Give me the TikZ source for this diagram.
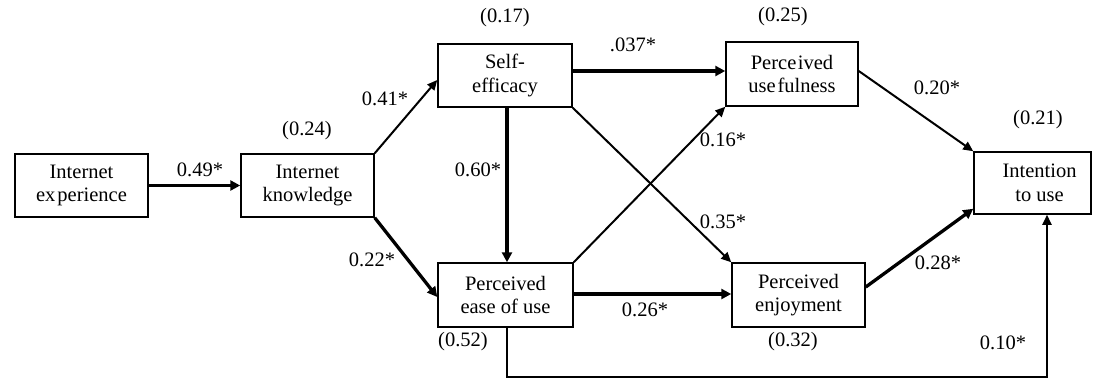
\documentclass[tikz,border=0pt]{standalone}
\usepackage{fontspec}
\setmainfont{Liberation Serif}
\usetikzlibrary{arrows.meta,calc}

\tikzset{
  base/.style={font=\fontsize{20.5}{23.5}\selectfont, text=black},
  var/.style={base, draw=black, line width=1.5pt, rectangle, align=center, inner sep=0pt},
  lbl/.style={base, inner sep=0pt},
  link/.style={line width=2pt, -{Triangle[length=10pt,width=9pt]}},
  strong/.style={line width=3.3pt, -{Triangle[length=10pt,width=10pt]}},
}

\begin{document}
\begin{tikzpicture}[x=1pt,y=-1pt]
  \useasboundingbox (0,0) rectangle (1093,378);

  % latent variables
  \node[var, minimum width=133pt, minimum height=63pt] (IE)  at (81.5,185.5) {Internet\\ex\kern2pt perience};
  \node[var, minimum width=133pt, minimum height=63pt] (IK)  at (307.5,185.5) {Internet\\knowledge};
  \node[var, minimum width=134pt, minimum height=63pt] (SE)  at (505,75.5) {Self-\\efficacy};
  \node[var, minimum width=135pt, minimum height=64pt] (PEU) at (505.5,295) {Perceived\\ease of use};
  \node[var, minimum width=132pt, minimum height=64pt] (PU)  at (792,74) {Perce\kern1.5pt ived\\use\kern2pt fulness};
  \node[var, minimum width=133pt, minimum height=64pt] (PE)  at (798.5,295) {Perceived\\enjoyment};
  \node[var, minimum width=117pt, minimum height=62pt] (IU)  at (1032.5,183) {\hspace*{14pt}Intention\\\hspace*{14pt}to use};

  % explained variance
  \node[lbl] (r2IK)  at (307,131) {(0.24)};
  \node[lbl] (r2SE)  at (505,18)  {(0.17)};
  \node[lbl] (r2PU)  at (783,17)  {(0.25)};
  \node[lbl] (r2IU)  at (1038,120) {(0.21)};
  \node[lbl] (r2PEU) at (463,342) {(0.52)};
  \node[lbl] (r2PE)  at (793,342) {(0.32)};

  % paths
  \draw[strong] (IE.east) -- (IK.west);
  \draw[link]   (IK.north east) -- ([yshift=-4.5pt]SE.west);
  \draw[strong] (IK.south east) -- ([yshift=-2pt]PEU.west);
  \draw[strong] ([xshift=2pt]SE.south) -- ([xshift=1.5pt]PEU.north);
  \draw[strong] ([yshift=4.5pt]SE.east) -- ([yshift=3pt]PU.west);
  \draw[link]   (SE.south east) -- (PE.north west);
  \draw[link]   (PEU.north east) -- (PU.south west);
  \draw[strong] ([yshift=1pt]PEU.east) -- ([yshift=1pt]PE.west);
  \draw[link]   ([yshift=3pt]PU.east) -- (IU.north west);
  \draw[strong] ([yshift=8pt]PE.east) -- ([yshift=6pt]IU.south west);
  \coordinate (turn) at ($(PEU.south)+(1.5,49)$);
  \draw[link]   ([xshift=1.5pt]PEU.south) -- (turn) -| ([xshift=14.5pt]IU.south);

  % path coefficients
  \node[lbl] (c1)  at (200,170) {0.49*};
  \node[lbl] (c2)  at (385,99)  {0.41*};
  \node[lbl] (c3)  at (372,260) {0.22*};
  \node[lbl] (c4)  at (633,45)  {.037*};
  \node[lbl] (c5)  at (478,170) {0.60*};
  \node[lbl] (c6)  at (723,140) {0.16*};
  \node[lbl] (c7)  at (723,222) {0.35*};
  \node[lbl] (c8)  at (645,310) {0.26*};
  \node[lbl] (c9)  at (937,88)  {0.20*};
  \node[lbl] (c10) at (938,263) {0.28*};
  \node[lbl] (c11) at (1003,343) {0.10*};
\end{tikzpicture}
\end{document}
